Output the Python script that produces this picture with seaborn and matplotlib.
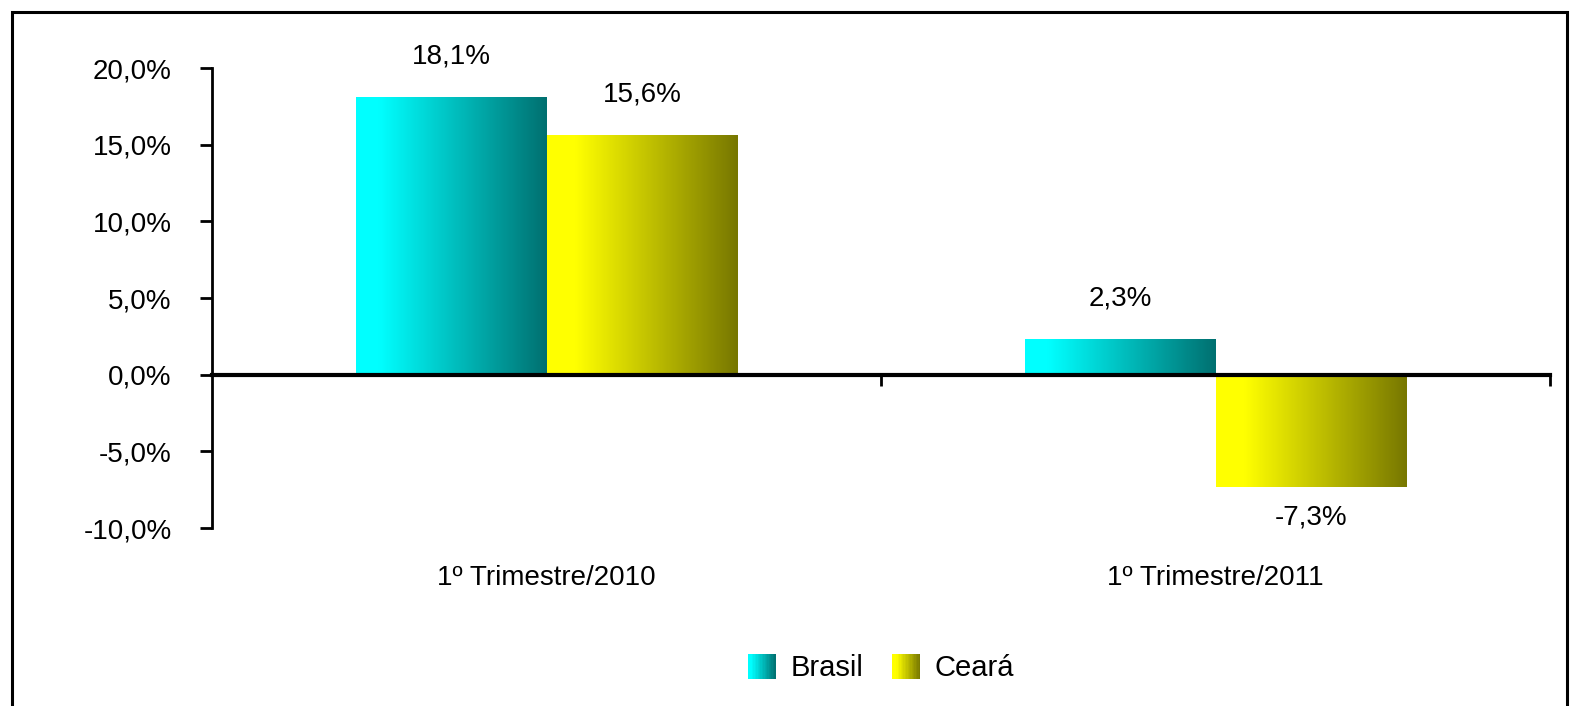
import numpy as np
import pandas as pd
import matplotlib
matplotlib.use("Agg")
import matplotlib.pyplot as plt
import seaborn as sns
from matplotlib.colors import LinearSegmentedColormap
from matplotlib.patches import Rectangle
from matplotlib.legend_handler import HandlerPatch
from matplotlib.ticker import FuncFormatter
import matplotlib.transforms as mtransforms

periodos = ["1º Trimestre/2010", "1º Trimestre/2011"]
series = ["Brasil", "Ceará"]
brasil = [18.1, 2.3]
ceara = [15.6, -7.3]

df = pd.DataFrame({
    "periodo": periodos * 2,
    "serie": [series[0]] * 2 + [series[1]] * 2,
    "valor": brasil + ceara,
})

# gradient maps per series (light left -> dark right)
cmaps = {
    "Brasil": LinearSegmentedColormap.from_list("br", [(0, "#00ffff"), (0.12, "#00ffff"), (1, "#007070")]),
    "Ceará": LinearSegmentedColormap.from_list("ce", [(0, "#ffff00"), (0.15, "#ffff00"), (1, "#777700")]),
}
base = {"Brasil": "#00ffff", "Ceará": "#ffff00"}

sns.set_style("white")
plt.rcParams["font.family"] = ["Liberation Sans", "DejaVu Sans"]
plt.rcParams["text.color"] = "black"
plt.rcParams["xtick.color"] = "black"
plt.rcParams["ytick.color"] = "black"

fig = plt.figure(figsize=(15.77, 7.06), dpi=100)
ax = fig.add_axes([212 / 1577, 178 / 706, 1338 / 1577, 460 / 706])

sns.barplot(data=df, x="periodo", y="valor", hue="serie", hue_order=series,
            order=periodos, palette=base, width=0.57, ax=ax, legend=False,
            saturation=1, linewidth=0)

grad = np.linspace(0, 1, 256).reshape(1, -1)
for cont, name in zip(ax.containers, series):
    for bar in cont:
        x0, w = bar.get_x(), bar.get_width()
        y0, h = bar.get_y(), bar.get_height()
        ax.imshow(grad, cmap=cmaps[name], aspect="auto",
                  extent=[x0, x0 + w, min(y0, y0 + h), max(y0, y0 + h)], zorder=2)
        bar.set_visible(False)
    for bar in cont:
        v = bar.get_height()
        xc = bar.get_x() + bar.get_width() / 2
        lab = f"{v:.1f}%".replace(".", ",")
        if v >= 0:
            ax.annotate(lab, (xc, v), xytext=(0, 20), textcoords="offset points",
                        ha="center", va="bottom", fontsize=20)
        else:
            ax.annotate(lab, (xc, v), xytext=(0, -13), textcoords="offset points",
                        ha="center", va="top", fontsize=20)

ax.set_xlim(-0.5, 1.5)
ax.set_ylim(-10, 20)
ax.set_yticks(np.arange(-10, 21, 5))
ax.yaxis.set_major_formatter(FuncFormatter(lambda v, p: f"{v:.1f}%".replace(".", ",")))
ax.tick_params(axis="y", direction="out", length=9, width=2, pad=20, labelsize=20, left=True)

for s in ["top", "right"]:
    ax.spines[s].set_visible(False)
ax.spines["left"].set_linewidth(2)
ax.spines["left"].set_color("black")
ax.spines["bottom"].set_position(("data", 0))
ax.spines["bottom"].set_linewidth(3)
ax.spines["bottom"].set_color("black")
ax.spines["bottom"].set_zorder(3)
ax.set_xticks([0.5, 1.5])
ax.set_xticklabels(["", ""])
ax.tick_params(axis="x", direction="out", length=8, width=2, bottom=True)
ax.set_xlabel("")
ax.set_ylabel("")

trans = mtransforms.blended_transform_factory(ax.transData, ax.transAxes)
for i, p in enumerate(periodos):
    ax.text(i, -0.109, p, transform=trans, ha="center", va="center", fontsize=20)


class GradHandler(HandlerPatch):
    def __init__(self, cmap):
        super().__init__()
        self.cmap = cmap

    def create_artists(self, legend, orig_handle, xdescent, ydescent, width, height, fontsize, trans):
        n = 20
        arts = []
        for k in range(n):
            r = Rectangle((-xdescent + width * k / n, -ydescent), width / n + 0.3, height,
                          facecolor=self.cmap((k + 0.5) / n), edgecolor="none", transform=trans)
            arts.append(r)
        return arts


handles = [Rectangle((0, 0), 1, 1) for _ in series]
leg = fig.legend(handles, series, loc="center", bbox_to_anchor=(881 / 1577, 1 - 668 / 706),
                 ncol=2, frameon=False, fontsize=21, handlelength=0.95, handleheight=0.95,
                 handletextpad=0.5, columnspacing=1.0,
                 handler_map={handles[0]: GradHandler(cmaps["Brasil"]),
                              handles[1]: GradHandler(cmaps["Ceará"])})

# outer frame
fig.patches.append(Rectangle((12 / 1577, -0.05), 1555 / 1577, 1 - 12 / 706 + 0.05,
                             transform=fig.transFigure, fill=False, edgecolor="black",
                             linewidth=2.2, zorder=10))

fig.savefig("out.png", dpi=100)
